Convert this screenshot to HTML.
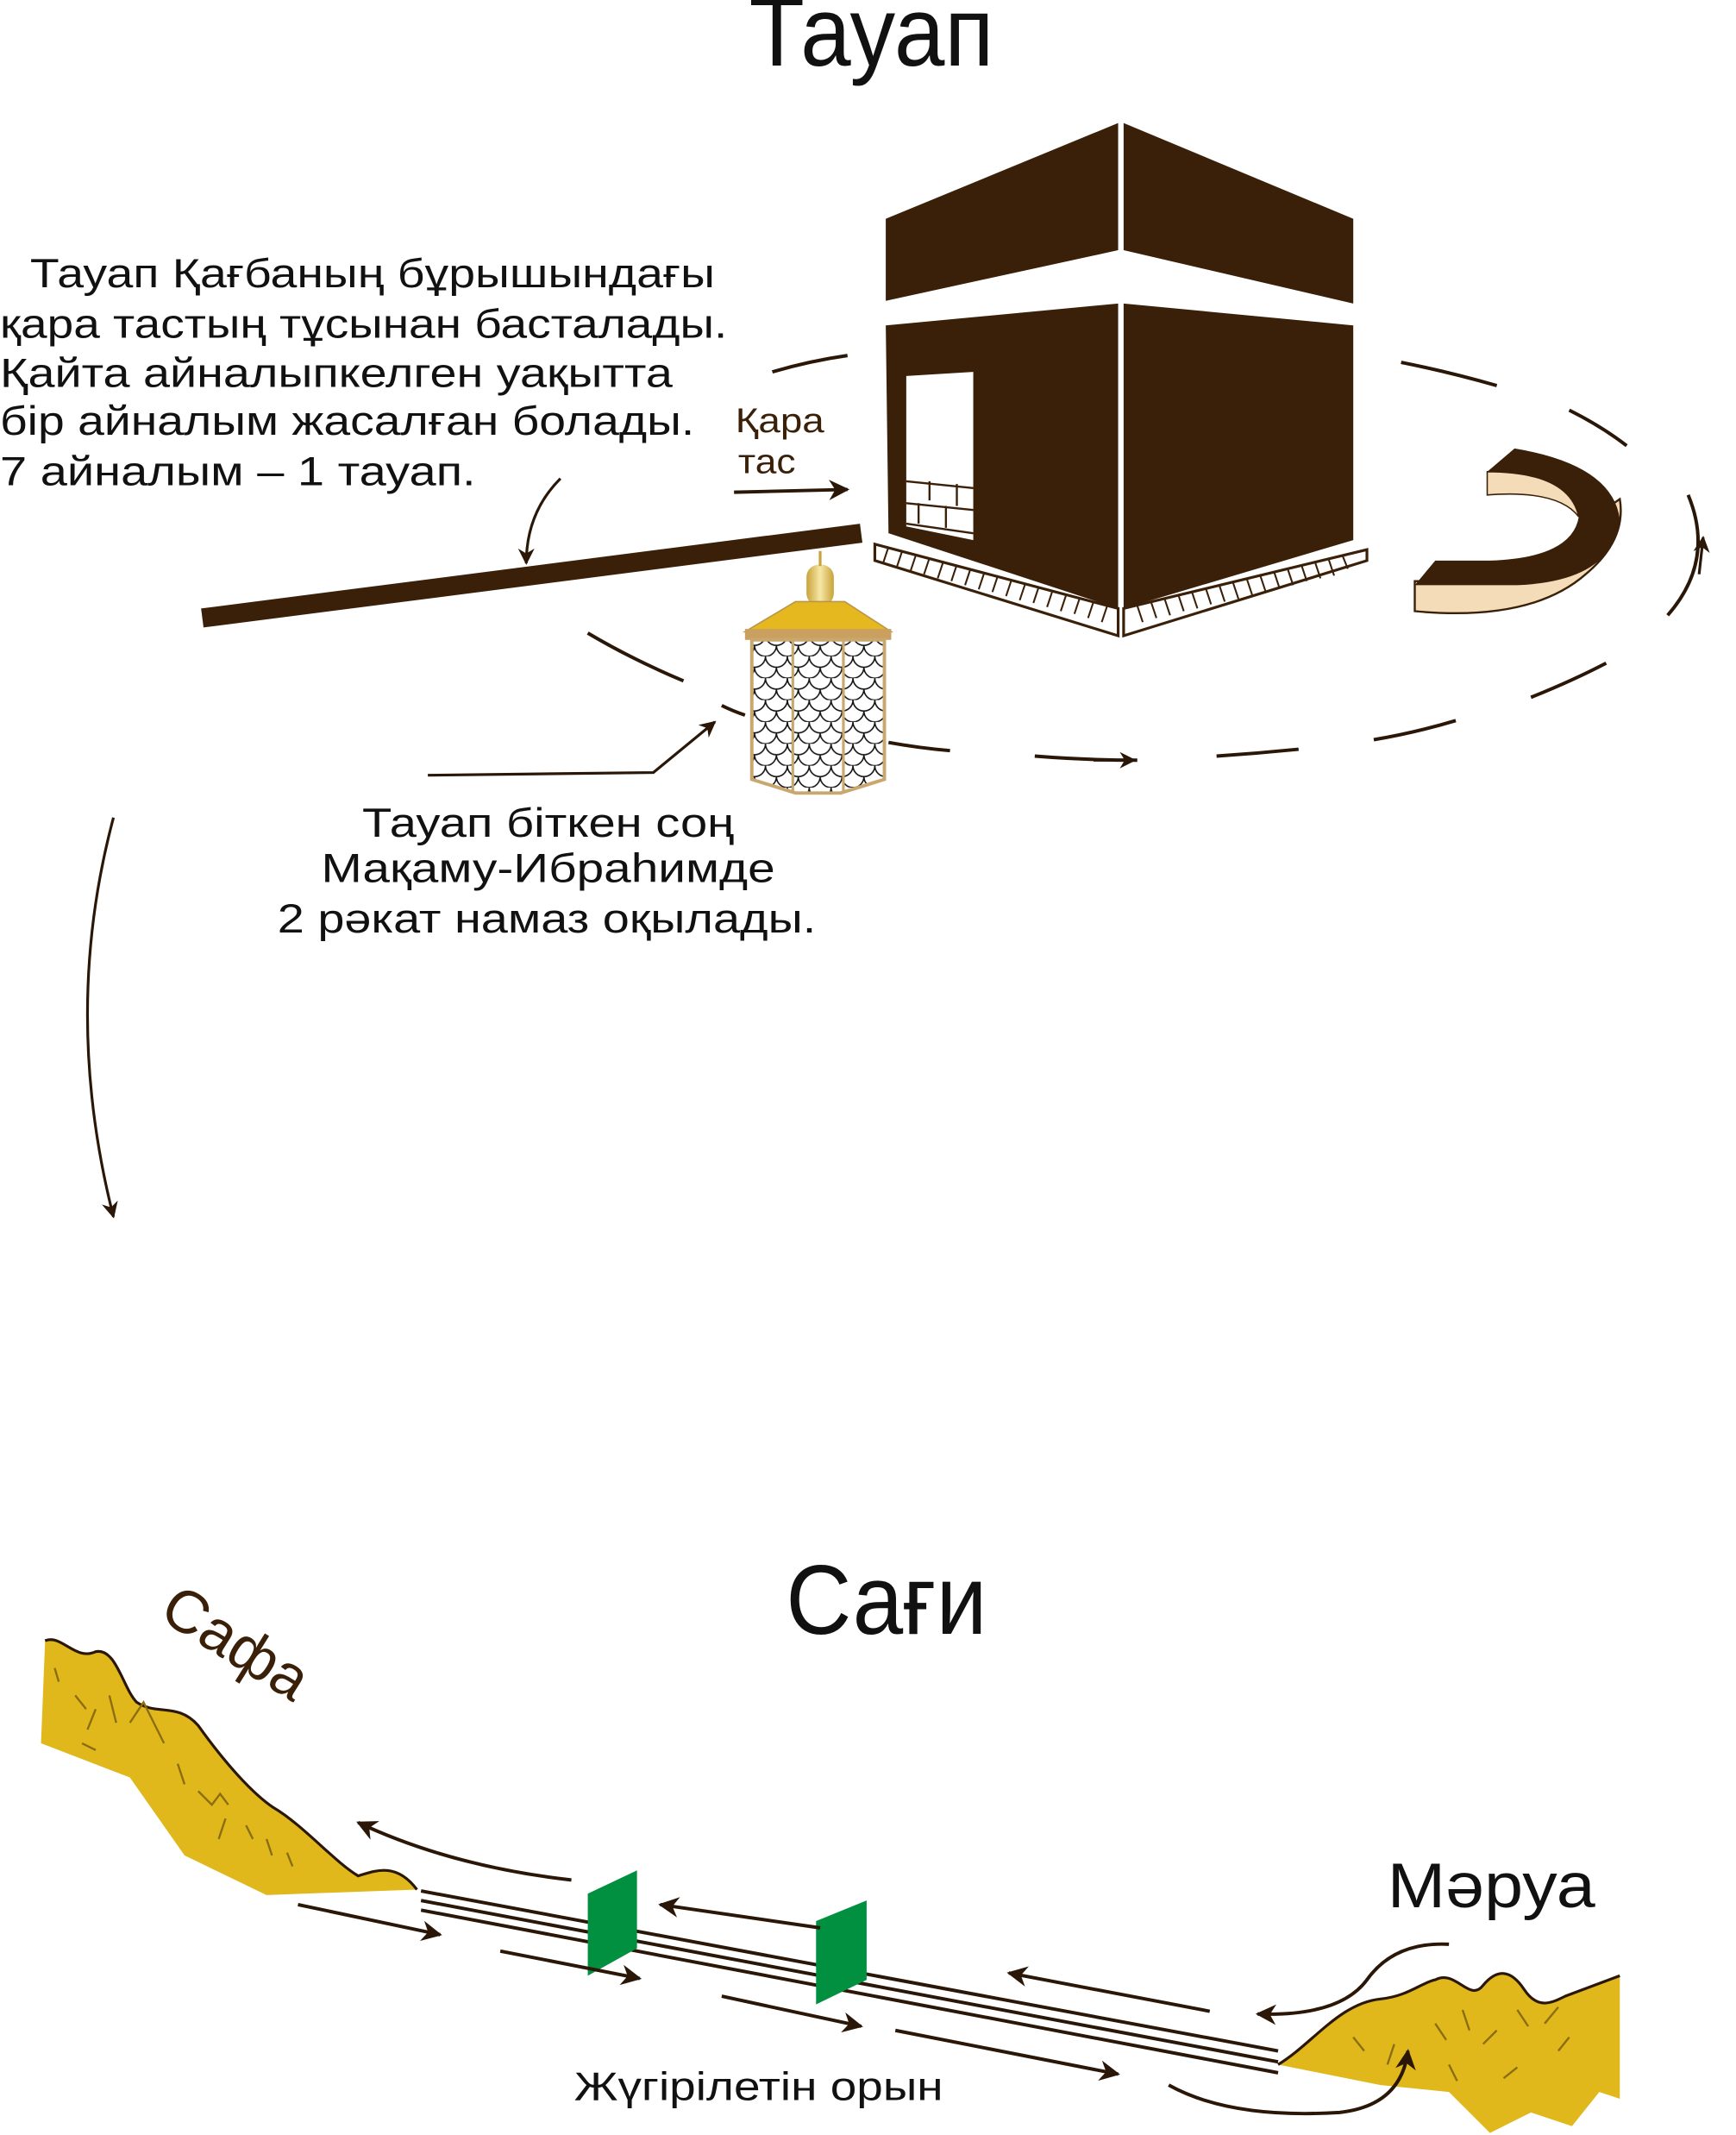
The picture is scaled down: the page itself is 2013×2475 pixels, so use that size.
<!DOCTYPE html>
<html><head><meta charset="utf-8">
<style>html,body{margin:0;padding:0;background:#fff;}svg{display:block;}</style>
</head><body>
<svg width="2013" height="2475" viewBox="0 0 1270 1561.5" preserveAspectRatio="none" xmlns="http://www.w3.org/2000/svg" font-family="Liberation Sans, sans-serif">
<defs>
<marker id="ah" viewBox="0 0 10 10" refX="9" refY="5" markerWidth="6" markerHeight="6" orient="auto"><path d="M0,0 L10,5 L0,10 L3,5 Z" fill="#2a1707"/></marker>
<pattern id="sc" width="16" height="16" patternUnits="userSpaceOnUse"><path d="M0,0 A8,8 0 0 0 16,0 M-8,8 A8,8 0 0 0 8,8 M8,8 A8,8 0 0 0 24,8" fill="none" stroke="#111" stroke-width="1"/></pattern>
<linearGradient id="gold" x1="0" x2="1"><stop offset="0" stop-color="#c9a23a"/><stop offset=".5" stop-color="#f6e7a6"/><stop offset="1" stop-color="#c9a23a"/></linearGradient>
</defs>
<text x="548" y="48" font-size="72" textLength="179" lengthAdjust="spacingAndGlyphs" fill="#111">Тауап</text>
<g font-size="30" fill="#111">
<text x="22" y="210" textLength="501" lengthAdjust="spacingAndGlyphs">Тауап Қағбаның бұрышындағы</text>
<text x="0" y="247" textLength="532" lengthAdjust="spacingAndGlyphs">қара тастың тұсынан басталады.</text>
<text x="0" y="283" textLength="492" lengthAdjust="spacingAndGlyphs">Қайта айналыпкелген уақытта</text>
<text x="0" y="318" textLength="508" lengthAdjust="spacingAndGlyphs">бір айналым жасалған болады.</text>
<text x="0" y="355" textLength="348" lengthAdjust="spacingAndGlyphs">7 айналым – 1 тауап.</text>
</g>
<!-- ellipse dashes -->
<g stroke="#2a1707" stroke-width="2.5" fill="none">
<path d="M565,272 Q592,264 620,260"/>
<path d="M1025,265 Q1060,272 1095,282"/>
<path d="M1148,300 Q1172,312 1190,326"/>
<path d="M1175,485 Q1150,498 1120,510"/>
<path d="M1065,527 Q1035,536 1005,541"/>
<path d="M950,548 Q920,551 890,553"/>
<path d="M832,556 Q795,556 757,553" />
<path d="M695,549 Q672,547 650,543"/>
<path d="M545,523 Q536,520 528,516"/>
<path d="M500,498 Q462,482 430,463"/>
<path d="M1220,450 Q1255,410 1235,362"/>
</g>
<path d="M800,556 L830,556" stroke="#2a1707" stroke-width="2" marker-end="url(#ah)"/>
<path d="M1243,420 L1246,393" stroke="#2a1707" stroke-width="2" marker-end="url(#ah)"/>
<!-- Kaaba -->
<polygon points="648,160 818,90 818,183 648,220" fill="#3a2008"/>
<polygon points="822,90 990,160 990,222 822,183" fill="#3a2008"/>
<polygon points="648,238 818,222 818,445 650,390" fill="#3a2008"/>
<polygon points="822,222 990,238 990,395 822,445" fill="#3a2008"/>
<polygon points="663,275 712,272 712,395 663,385" fill="#fff"/>
<g stroke="#3a2008" stroke-width="1.5" fill="none"><path d="M663,352 L712,357 M663,368 L712,373 M663,383 L712,390 M680,352 L680,366 M700,354 L700,370 M672,368 L672,383 M692,370 L692,386"/></g>
<polygon points="640,398 818,445 818,465 640,410" fill="#fff" stroke="#3a2008" stroke-width="2"/>
<polygon points="822,445 1000,402 1000,410 822,465" fill="#fff" stroke="#3a2008" stroke-width="2"/>
<g stroke="#3a2008" stroke-width="1.3"><path d="M650,400 l-4,12 M660,403 l-4,12 M670,406 l-4,12 M680,408 l-4,12 M690,411 l-4,12 M700,413 l-4,12 M710,416 l-4,12 M720,419 l-4,12 M730,421 l-4,12 M740,424 l-4,12 M750,427 l-4,12 M760,429 l-4,12 M770,432 l-4,12 M780,435 l-4,12 M790,437 l-4,12 M800,440 l-4,12 M810,443 l-4,12 M832,443 l4,12 M842,440 l4,12 M852,438 l4,12 M862,435 l4,12 M872,433 l4,12 M882,430 l4,12 M892,428 l4,12 M902,426 l4,12 M912,423 l4,12 M922,421 l4,12 M932,418 l4,12 M942,416 l4,12 M952,413 l4,12 M962,411 l4,12 M972,409 l4,12 M982,406 l4,10"/></g>
<!-- Hijr Ismail -->
<path d="M1035,425 L1035,447 Q1120,455 1160,420 Q1190,395 1185,365 L1175,372 Q1150,420 1080,425 Z" fill="#f5dcb8" stroke="#3a2008" stroke-width="1.5"/>
<path d="M1088,345 L1108,328 Q1180,340 1185,380 Q1180,425 1110,428 L1035,428 L1050,410 L1090,410 Q1150,408 1155,378 Q1150,350 1088,362 Z" fill="#3a2008"/>
<path d="M1088,345 L1088,362 Q1140,358 1155,378 Q1148,345 1088,345 Z" fill="#f5dcb8" stroke="#3a2008" stroke-width="1"/>
<!-- bar -->
<line x1="148" y1="452" x2="630" y2="390" stroke="#3a2008" stroke-width="14"/>
<path d="M410,350 Q385,375 385,412" fill="none" stroke="#2a1707" stroke-width="2" marker-end="url(#ah)"/>
<text x="538" y="316" font-size="25" textLength="65" lengthAdjust="spacingAndGlyphs" fill="#3a2008">Қара</text>
<text x="540" y="346" font-size="25" textLength="42" lengthAdjust="spacingAndGlyphs" fill="#3a2008">тас</text>
<line x1="537" y1="360" x2="620" y2="358" stroke="#2a1707" stroke-width="2.5" marker-end="url(#ah)"/>
<!-- maqam -->
<rect x="590" y="413" width="20" height="30" rx="9" fill="url(#gold)"/>
<line x1="600" y1="403" x2="600" y2="414" stroke="#c9a23a" stroke-width="2"/>
<polygon points="582,440 618,440 652,462 545,462" fill="#e6b820" stroke="#b89548" stroke-width="1"/>
<rect x="545" y="460" width="107" height="8" fill="#c9a060"/>
<polygon points="550,468 647,468 647,570 615,580 582,580 550,570" fill="url(#sc)" stroke="#c9a870" stroke-width="2.5"/>
<line x1="580" y1="468" x2="580" y2="580" stroke="#c9a870" stroke-width="2"/>
<line x1="617" y1="468" x2="617" y2="580" stroke="#c9a870" stroke-width="2"/>
<polyline points="313,567 478,565 523,528" fill="none" stroke="#2a1707" stroke-width="2" marker-end="url(#ah)"/>
<g font-size="30" fill="#111">
<text x="265" y="612" textLength="272" lengthAdjust="spacingAndGlyphs">Тауап біткен соң</text>
<text x="235" y="645" textLength="332" lengthAdjust="spacingAndGlyphs">Мақаму-Ибраһимде</text>
<text x="203" y="682" textLength="394" lengthAdjust="spacingAndGlyphs">2 рәкат намаз оқылады.</text>
</g>
<path d="M83,598 Q45,740 83,890" fill="none" stroke="#2a1707" stroke-width="2" marker-end="url(#ah)"/>
<!-- Sagi -->
<text x="575" y="1195" font-size="72" textLength="147" lengthAdjust="spacingAndGlyphs" fill="#111">Сағи</text>
<text x="0" y="0" font-size="44" fill="#3a2008" transform="translate(115,1183) rotate(32)">Сафа</text>
<path d="M33,1200 C45,1195 55,1215 70,1208 C85,1205 90,1235 100,1245 C115,1255 130,1245 145,1262 C165,1290 185,1312 200,1322 C222,1335 245,1362 262,1372 C275,1368 290,1362 305,1382 L195,1386 L135,1357 L95,1300 L30,1275 Z" fill="#e0b81b"/>
<path d="M33,1200 C45,1195 55,1215 70,1208 C85,1205 90,1235 100,1245 C115,1255 130,1245 145,1262 C165,1290 185,1312 200,1322 C222,1335 245,1362 262,1372 C275,1368 290,1362 305,1382" fill="none" stroke="#2a1707" stroke-width="2"/>
<g stroke="#8a6d10" stroke-width="1.5" fill="none"><path d="M40,1220 l3,10 M55,1240 l8,10 M70,1250 l-6,15 M80,1240 l5,20 M95,1260 l10,-15 L120,1275 M60,1275 l10,5 M130,1290 l5,15 M145,1310 l10,10 l6,-8 l6,8 M165,1330 l-5,15 M180,1335 l5,10 M195,1345 l4,12 M210,1355 l4,10"/></g>
<path d="M935,1510 C960,1495 980,1465 1010,1462 C1030,1460 1040,1450 1050,1448 C1065,1440 1075,1465 1085,1452 C1095,1440 1105,1440 1115,1455 C1125,1470 1135,1465 1145,1460 L1185,1445 L1185,1535 L1170,1530 L1150,1555 L1120,1545 L1090,1560 L1060,1530 L1010,1525 Z" fill="#e0b81b"/>
<path d="M935,1510 C960,1495 980,1465 1010,1462 C1030,1460 1040,1450 1050,1448 C1065,1440 1075,1465 1085,1452 C1095,1440 1105,1440 1115,1455 C1125,1470 1135,1465 1145,1460 L1185,1445" fill="none" stroke="#2a1707" stroke-width="2"/>
<g stroke="#8a6d10" stroke-width="1.5" fill="none"><path d="M990,1490 l8,10 M1020,1495 l-5,15 M1050,1480 l8,12 M1070,1470 l5,15 M1085,1495 l10,-10 M1110,1470 l8,12 M1130,1480 l10,-12 M1140,1500 l8,-10 M1100,1520 l10,-8 M1060,1510 l6,12"/></g>
<g stroke="#2a1707" stroke-width="2.5">
<line x1="308" y1="1383" x2="935" y2="1500"/>
<line x1="308" y1="1390" x2="935" y2="1508"/>
<line x1="308" y1="1397" x2="935" y2="1516"/>
</g>
<polygon points="430,1385 466,1368 466,1425 430,1445" fill="#009040"/>
<polygon points="597,1405 634,1390 634,1448 597,1466" fill="#009040"/>
<g stroke="#2a1707" stroke-width="2.5" fill="none" marker-end="url(#ah)">
<line x1="218" y1="1393" x2="322" y2="1415"/>
<line x1="366" y1="1427" x2="468" y2="1447"/>
<line x1="528" y1="1460" x2="630" y2="1482"/>
<line x1="655" y1="1485" x2="818" y2="1517"/>
<line x1="885" y1="1471" x2="738" y2="1443"/>
<line x1="600" y1="1410" x2="483" y2="1393"/>
<path d="M418,1375 Q330,1365 262,1333"/>
<path d="M1060,1422 Q1020,1420 1000,1448 Q980,1475 920,1473"/>
<path d="M855,1525 Q900,1550 980,1545 Q1025,1540 1030,1500"/>
</g>
<text x="1015" y="1395" font-size="46" textLength="152" lengthAdjust="spacingAndGlyphs" fill="#111">Мәруа</text>
<text x="420" y="1536" font-size="29" textLength="270" lengthAdjust="spacingAndGlyphs" fill="#111">Жүгірілетін орын</text>
</svg>
</body></html>
